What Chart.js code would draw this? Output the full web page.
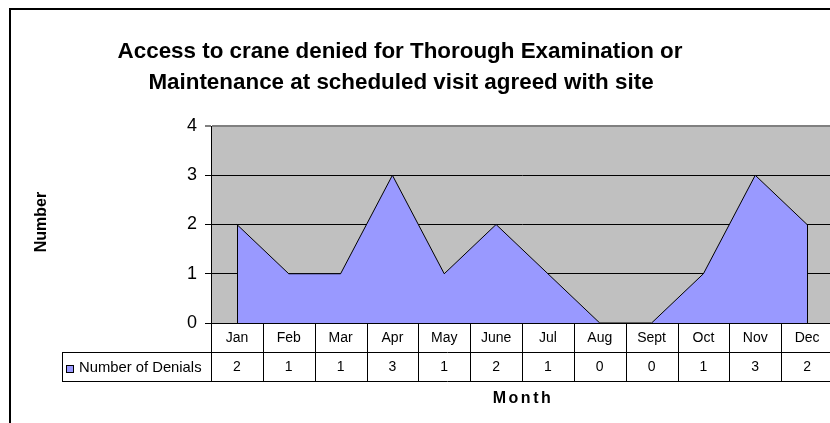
<!DOCTYPE html>
<html>
<head>
<meta charset="utf-8">
<script src="https://cdn.jsdelivr.net/npm/chart.js@4/dist/chart.umd.min.js"></script>
<style>
  html, body { margin: 0; padding: 0; background: #fff; overflow: hidden; }
  #wrap { width: 830px; height: 423px; overflow: hidden; }
</style>
</head>
<body>
<div id="wrap"><canvas id="c" width="880" height="423"></canvas></div>
<script>
// data
const MONTHS = ["Jan", "Feb", "Mar", "Apr", "May", "June", "Jul", "Aug", "Sept", "Oct", "Nov", "Dec"];
const DENIALS = [2, 1, 1, 3, 1, 2, 1, 0, 0, 1, 3, 2];
const SERIES_NAME = "Number of Denials";
const TITLE_LINES = ["Access to crane denied for Thorough Examination or", "Maintenance at scheduled visit agreed with site"];
const Y_TITLE = "Number";
const X_TITLE = "Month";

const FILL = "#9999FF";
const PLOT_BG = "#C0C0C0";
const FONT = "Arial, 'Liberation Sans'";

// frame, titles, plot background
const backdrop = {
  id: "backdrop",
  beforeDraw(chart) {
    const { ctx, chartArea: a } = chart;
    ctx.save();
    ctx.fillStyle = PLOT_BG;
    ctx.fillRect(a.left, a.top, a.right - a.left, a.bottom - a.top);
    ctx.restore();
  },
  afterDraw(chart) {
    const { ctx, chartArea: a } = chart;
    ctx.save();
    ctx.strokeStyle = "#000";
    ctx.lineWidth = 2;
    ctx.strokeRect(10, 9, chart.width + 20, chart.height + 20);

    ctx.fillStyle = "#000";
    ctx.textAlign = "center";
    ctx.textBaseline = "middle";
    ctx.font = "bold 22.4px " + FONT;
    ctx.fillText(TITLE_LINES[0], 400, 52);
    ctx.fillText(TITLE_LINES[1], 401, 83);

    ctx.font = "bold 16px " + FONT;
    ctx.save();
    ctx.translate(42, 222);
    ctx.rotate(-Math.PI / 2);
    ctx.fillText(Y_TITLE, 0, 0);
    ctx.restore();

    ctx.letterSpacing = "2.5px";
    ctx.fillText(X_TITLE, (a.left + a.right) / 2 + 1, 399);
    ctx.restore();
  }
};

// vertical edges of the area
const areaEdges = {
  id: "areaEdges",
  afterDatasetsDraw(chart) {
    const { ctx } = chart;
    const x = chart.scales.x, y = chart.scales.y;
    const last = DENIALS.length - 1;
    ctx.save();
    ctx.strokeStyle = "#000";
    ctx.lineWidth = 1;
    ctx.beginPath();
    [0, last].forEach(i => {
      const px = Math.round(x.getPixelForValue(i)) + 0.5;
      ctx.moveTo(px, y.getPixelForValue(DENIALS[i]));
      ctx.lineTo(px, y.getPixelForValue(0));
    });
    ctx.stroke();
    ctx.restore();
  }
};

// data table under the plot
const dataTable = {
  id: "dataTable",
  afterDraw(chart) {
    const { ctx, chartArea: a } = chart;
    const x = chart.scales.x;
    const half = (x.getPixelForValue(1) - x.getPixelForValue(0)) / 2;
    const top = Math.round(a.bottom);
    const mid = top + 29;
    const bot = mid + 29;
    const legendLeft = 62;
    const right = x.getPixelForValue(MONTHS.length - 1) + half;

    ctx.save();
    ctx.strokeStyle = "#000";
    ctx.lineWidth = 1;
    ctx.beginPath();
    ctx.moveTo(legendLeft, mid + 0.5); ctx.lineTo(right, mid + 0.5);
    ctx.moveTo(legendLeft, bot + 0.5); ctx.lineTo(right, bot + 0.5);
    ctx.moveTo(legendLeft + 0.5, mid); ctx.lineTo(legendLeft + 0.5, bot);
    for (let i = 0; i <= MONTHS.length; i++) {
      const px = Math.round(x.getPixelForValue(i) - half) + 0.5;
      ctx.moveTo(px, top); ctx.lineTo(px, bot);
    }
    ctx.stroke();

    ctx.fillStyle = "#000";
    ctx.textAlign = "center";
    ctx.textBaseline = "middle";
    ctx.font = "14px " + FONT;
    MONTHS.forEach((m, i) => {
      const cx = x.getPixelForValue(i);
      ctx.fillText(m, cx, (top + mid) / 2 + 1);
      ctx.fillText(String(DENIALS[i]), cx, (mid + bot) / 2 + 1);
    });

    // legend key
    ctx.fillStyle = FILL;
    ctx.fillRect(66.5, 365.5, 7, 7);
    ctx.strokeRect(66.5, 365.5, 7, 7);
    ctx.fillStyle = "#000";
    ctx.textAlign = "left";
    ctx.font = "14.8px " + FONT;
    ctx.fillText(SERIES_NAME, 79, (mid + bot) / 2 + 1);
    ctx.restore();
  }
};

new Chart(document.getElementById("c"), {
  type: "line",
  data: {
    labels: MONTHS,
    datasets: [{
      label: SERIES_NAME,
      data: DENIALS,
      fill: "origin",
      backgroundColor: FILL,
      borderColor: "#000",
      borderWidth: 1,
      pointRadius: 0,
      tension: 0
    }]
  },
  options: {
    responsive: false,
    animation: false,
    devicePixelRatio: 1,
    layout: { padding: { left: 171, top: 126, right: 47, bottom: 100 } },
    plugins: { legend: { display: false }, tooltip: { enabled: false } },
    scales: {
      x: {
        type: "category",
        offset: true,
        grid: { display: false },
        border: { display: false },
        ticks: { display: false },
        afterFit(s) { s.height = 0; }
      },
      y: {
        min: 0,
        max: 4,
        ticks: { stepSize: 1, color: "#000", font: { family: FONT, size: 18 }, padding: 8 },
        grid: {
          color: ctx => (ctx.tick && ctx.tick.value === 4 ? "#808080" : "#000"),
          lineWidth: ctx => (ctx.tick && ctx.tick.value === 4 ? 2 : 1),
          tickLength: 6,
          drawTicks: true
        },
        border: { color: "#000", width: 1 },
        afterFit(s) { s.width = 40; }
      }
    }
  },
  plugins: [backdrop, areaEdges, dataTable]
});
</script>
</body>
</html>
